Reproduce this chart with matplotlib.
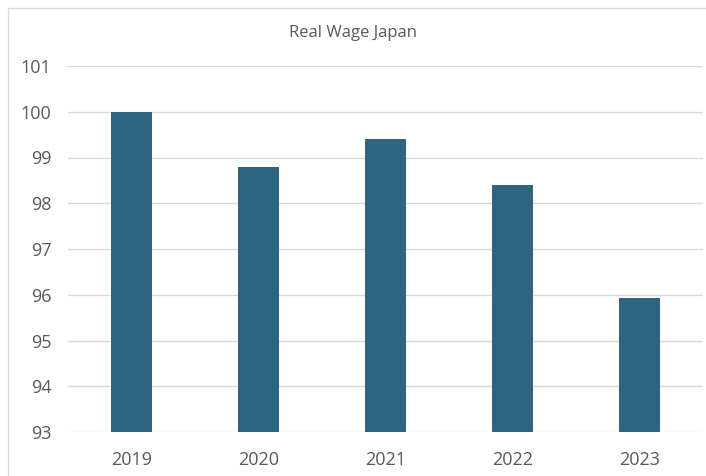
import matplotlib.pyplot as plt
from matplotlib.patches import Rectangle

years = ['2019', '2020', '2021', '2022', '2023']
real_wage = [100.0, 98.8, 99.4, 98.4, 95.93]
y_ticks = [93, 94, 95, 96, 97, 98, 99, 100, 101]

plt.rcParams['font.family'] = ['Open Sans', 'DejaVu Sans']

fig = plt.figure(figsize=(7.06, 4.76), dpi=100)
ax = fig.add_axes([68 / 706, 44 / 476, 635 / 706, 366 / 476])

ax.bar(years, real_wage, width=0.315, color='#2E6480', zorder=3)
ax.set_ylim(93, 101)
ax.set_xlim(-0.5, 4.5)
ax.set_yticks(y_ticks)
ax.grid(axis='y', color='#d9d9d9', linewidth=1, zorder=0)
for s in ax.spines.values():
    s.set_visible(False)
ax.tick_params(length=0, labelsize=13, labelcolor='#595959')
ax.tick_params(axis='y', pad=12)
ax.tick_params(axis='x', pad=14)

fig.text(0.5, 1 - 33 / 476, 'Real Wage Japan', ha='center', va='center',
         fontsize=12, color='#595959')

# chart border
fig.patches.append(Rectangle((8 / 706, -0.01), 1.0, 1 - 8 / 476 + 0.01,
                             transform=fig.transFigure, fill=False,
                             edgecolor='#d9d9d9', linewidth=1))

fig.savefig('out.png', dpi=100)
